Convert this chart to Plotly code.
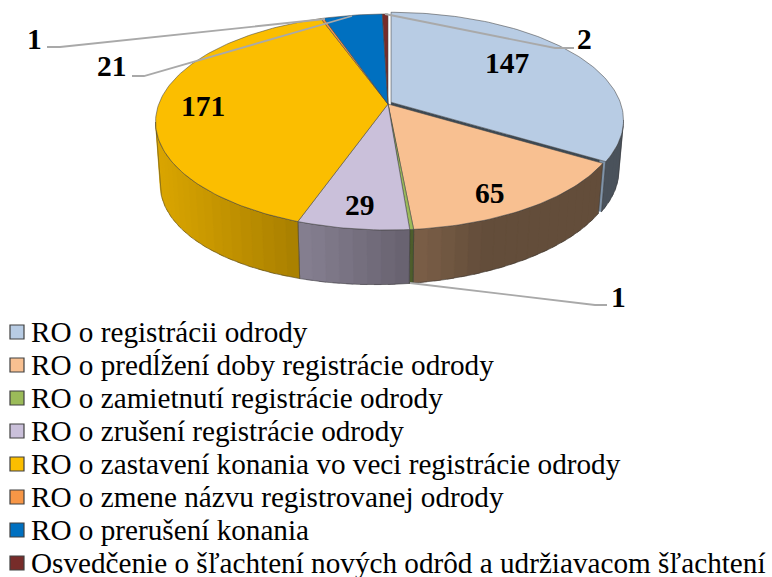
import numpy as np
import plotly.graph_objects as go

categories = [
    "RO o registrácii odrody",
    "RO o predĺžení doby registrácie odrody",
    "RO o zamietnutí registrácie odrody",
    "RO o zrušení registrácie odrody",
    "RO o zastavení konania vo veci registrácie odrody",
    "RO o zmene názvu registrovanej odrody",
    "RO o prerušení konania",
    "Osvedčenie o šľachtení nových odrôd a udržiavacom šľachtení",
]
values = [147, 65, 1, 29, 171, 1, 21, 2]
colors = ["#B8CCE4", "#F8C091", "#9BBB59", "#CAC0DA", "#FBBE00", "#F79646", "#0070C0", "#772C2A"]

# projection of the round pie on the page (pixel axes)
CX, CY, A, B, K = 388.0, 104.0, 229.2, 105.0, 1 / 6
DROP, SHRINK, TILT = 57.0, 0.98, -0.027
EXPLODE = 3.5
FONT = "Liberation Serif"

fractions = np.array(values) / sum(values)
edges = np.concatenate([[0], np.cumsum(fractions)]) * 2 * np.pi


def project(theta, r=1.0, low=False, dx=0.0, dy=0.0):
    theta = np.asarray(theta, dtype=float)
    u, v = r * np.sin(theta), r * np.cos(theta)
    w = 1 + K * v
    s = SHRINK if low else 1.0
    x = CX + s * A * u / w
    y = CY + s * B * (-v) / w
    if low:
        y = y + DROP + TILT * (x - CX)
    return x + dx, y + dy


def shade(hex_color, f):
    rgb = [int(hex_color[i:i + 2], 16) for i in (1, 3, 5)]
    return "rgb(%d,%d,%d)" % tuple(round(c * f) for c in rgb)


def wall_factor(x):
    return float(np.clip(0.87 - (x - 156) * 0.47 / 324, 0.40, 0.87))


fig = go.Figure()


def poly(x, y, fill=None, line=None, width=0.7, name=None):
    fig.add_trace(go.Scatter(
        x=list(x), y=list(y), mode="lines", name=name, showlegend=False, hoverinfo="skip",
        fill="toself" if fill else None, fillcolor=fill,
        line=dict(color=line or fill, width=width),
    ))


def offset(i):
    if i != 0:
        return 0.0, 0.0
    mid = (edges[0] + edges[1]) / 2
    return EXPLODE * np.sin(mid), -EXPLODE * np.cos(mid)


# end face of the pulled-out slice
dx0, dy0 = offset(0)
te = edges[1]
for r0, r1, col in [(0.0, 0.975, "#3C4954"), (0.975, 1.0, "#7F93A8")]:
    xa, ya = project(te, r0, False, dx0, dy0)
    xb, yb = project(te, r1, False, dx0, dy0)
    xc, yc = project(te, r1, True, dx0, dy0)
    xd, yd = project(te, r0, True, dx0, dy0)
    poly([xa, xb, xc, xd, xa], [ya, yb, yc, yd, ya], fill=col, width=0.5)

# outer walls, only between the two points where the rim turns away from the viewer
SIDE_LO, SIDE_HI = np.pi - np.arccos(K), np.pi + np.arccos(K)
for i in range(len(values)):
    lo, hi = max(edges[i], SIDE_LO), min(edges[i + 1], SIDE_HI)
    if hi <= lo:
        continue
    dx, dy = offset(i)
    n = max(1, int((hi - lo) / 0.05))
    th = np.linspace(lo, hi, n + 1)
    step = th[1] - th[0]
    # each band runs under the next one so that no seams show between shades
    for a, b in zip(th[:-1], th[1:]):
        bb = min(b + step * 0.5, hi)
        xt, yt = project([a, bb], 1, False, dx, dy)
        xl, yl = project([bb, a], 1, True, dx, dy)
        c = shade(colors[i], wall_factor((xt[0] + xt[1]) / 2))
        poly(list(xt) + list(xl) + [xt[0]], list(yt) + list(yl) + [yt[0]], fill=c, width=0.3)
    th2 = np.linspace(lo, hi, 3 * n + 2)
    xt, yt = project(th2, 1, False, dx, dy)
    xl, yl = project(th2[::-1], 1, True, dx, dy)
    poly(list(xt) + list(xl) + [xt[0]], list(yt) + list(yl) + [yt[0]], line="rgba(50,50,50,0.65)", width=0.7)

# top faces, pulled-out slice last
for i in list(range(1, len(values))) + [0]:
    dx, dy = offset(i)
    th = np.linspace(edges[i], edges[i + 1], max(3, int((edges[i + 1] - edges[i]) / 0.02)))
    xr, yr = project(th, 1, False, dx, dy)
    x = [CX + dx] + list(xr) + [CX + dx]
    y = [CY + dy] + list(yr) + [CY + dy]
    poly(x, y, fill=colors[i], line="rgba(70,70,70,0.8)", width=0.7, name=categories[i])

# leader lines
LEADERS = [
    ([47, 60, 325], [47, 47, 19]),
    ([132, 144, 352], [76, 76, 16]),
    ([574, 555, 385], [48, 48, 14]),
    ([607, 595, 410], [305, 305, 283]),
]
for lx, ly in LEADERS:
    poly(lx, ly, line="#A9A9A9", width=1.8)

# value labels
LABEL_POS = [(507, 63), (490, 193), (618, 297), (360, 205), (203, 106), (34, 39), (112, 66), (584, 39)]
for v, (x, y) in zip(values, LABEL_POS):
    fig.add_annotation(x=x, y=y, text=f"<b>{v}</b>", showarrow=False, xanchor="center", yanchor="middle",
                       font=dict(family=FONT, size=29.5, color="black"))

# key
KEY_X, KEY_Y, KEY_STEP = 17, 332, 33
for i, (cat, col) in enumerate(zip(categories, colors)):
    y = KEY_Y + i * KEY_STEP
    fig.add_trace(go.Scatter(x=[KEY_X], y=[y], mode="markers", showlegend=False, hoverinfo="skip",
                             marker=dict(symbol="square", size=14, color=col,
                                         line=dict(color="#404040", width=1.2))))
    fig.add_annotation(x=29, y=y, text=cat, showarrow=False, xanchor="left", yanchor="middle",
                       font=dict(family=FONT, size=29.2, color="black"))

fig.update_layout(
    width=772, height=577, autosize=False, margin=dict(l=0, r=0, t=0, b=0),
    paper_bgcolor="white", plot_bgcolor="white", showlegend=False,
    xaxis=dict(range=[0, 772], visible=False, fixedrange=True),
    yaxis=dict(range=[577, 0], visible=False, fixedrange=True),
)
fig.write_html("out.html", config={"displayModeBar": False},
               post_script="document.body.style.margin='0';window.dispatchEvent(new Event('resize'));")
